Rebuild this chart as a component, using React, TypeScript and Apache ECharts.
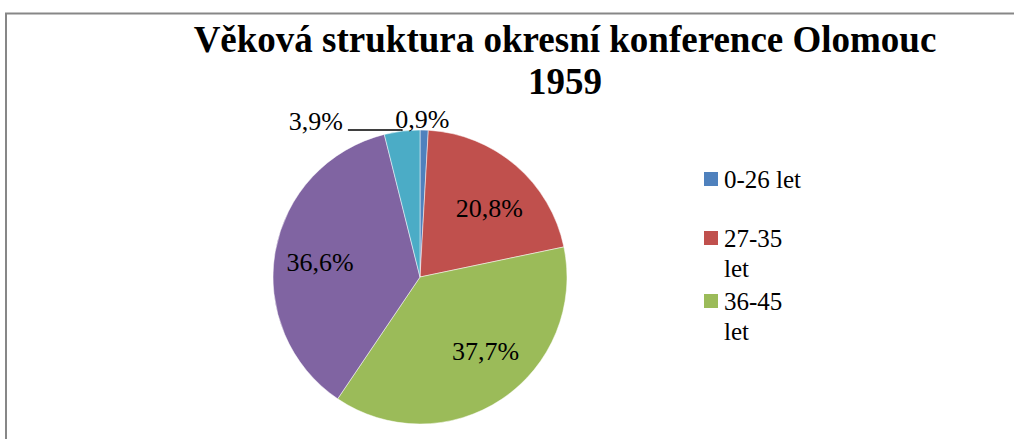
import React, { useEffect, useRef } from "react";
import * as echarts from "echarts";

const titleText = "Věková struktura okresní konference Olomouc\n1959";
const categories = ["0-26 let", "27-35 let", "36-45 let", "46-55 let", "nad 55 let"];
const values = [0.9, 20.8, 37.7, 36.6, 3.9];
const colors = ["#4F81BD", "#C0504D", "#9BBB59", "#8064A2", "#4BACC6"];
const legendShown = categories.slice(0, 3);

const FONT = "Liberation Serif";

const fmt = (v: number) => v.toFixed(1).replace(".", ",") + "%";

export default function App() {
  const ref = useRef<HTMLDivElement>(null);
  useEffect(() => {
    if (!ref.current) return;
    const chart = echarts.init(ref.current, undefined, { renderer: "svg" });
    const legendTops = [164, 193, 256];
    const legends = legendShown.map((name, i) => ({
      data: [name],
      orient: "vertical",
      left: 702,
      top: legendTops[i],
      padding: 0,
      icon: "rect",
      itemWidth: 16,
      itemHeight: 16,
      selectedMode: false,
      formatter: (n: string) => (i === 0 ? n : "\n" + n),
      textStyle: {
        fontFamily: FONT,
        fontSize: 25,
        lineHeight: 30,
        color: "#000",
        width: 85,
        overflow: "break",
      },
    }));
    const pieData = categories.map((name, i) => ({
      name,
      value: values[i],
      itemStyle: { color: colors[i] },
      label: { show: values[i] < 10 },
      labelLine: {
        show: values[i] < 10 && i !== 0,
        length: i === 0 ? 10 : 1,
        length2: i === 0 ? 0 : 54,
      },
    }));
    const overlayData = categories.map((name, i) => ({
      name,
      value: values[i],
      label: { show: values[i] >= 10 },
    }));
    chart.setOption({
      animation: false,
      textStyle: { fontFamily: FONT },
      title: {
        text: titleText,
        left: 565,
        top: 18,
        padding: 0,
        textAlign: "center",
        textStyle: {
          fontFamily: FONT,
          fontWeight: "bold",
          fontSize: 37,
          lineHeight: 42,
          color: "#000",
        },
      },
      legend: legends,
      graphic: [
        {
          type: "rect",
          silent: true,
          z: -10,
          shape: { x: 6, y: 13.5, width: 1100, height: 600 },
          style: { fill: "none", stroke: "#878787", lineWidth: 2 },
        },
      ],
      series: [
        {
          type: "pie",
          center: [420, 277],
          radius: [0, 147],
          startAngle: 90,
          clockwise: true,
          silent: true,
          avoidLabelOverlap: false,
          itemStyle: { borderColor: "#fff", borderWidth: 0.5 },
          label: {
            position: "outside",
            formatter: (p: any) => fmt(p.value),
            fontFamily: FONT,
            fontSize: 26,
            color: "#000",
            distanceToLabelLine: 5,
          },
          labelLine: { lineStyle: { color: "#000", width: 1.5 }, smooth: false },
          labelLayout: (p: any) => {
            if (p.dataIndex === 0) return { align: "center", dx: -7, dy: -1 };
            if (p.dataIndex === 4) return { dy: -9 };
            return {};
          },
          emphasis: { disabled: true },
          data: pieData,
        },
        {
          type: "pie",
          center: [420, 277],
          radius: [50, 147],
          startAngle: 90,
          clockwise: true,
          silent: true,
          avoidLabelOverlap: false,
          itemStyle: { color: "rgba(0,0,0,0)" },
          label: {
            position: "inside",
            formatter: (p: any) => fmt(p.value),
            fontFamily: FONT,
            fontSize: 26,
            color: "#000",
          },
          labelLayout: (p: any) => {
            if (p.dataIndex === 1) return { dx: 3, dy: 8 };
            if (p.dataIndex === 2) return { dx: 9, dy: -10 };
            if (p.dataIndex === 3) return { dy: 3 };
            return {};
          },
          labelLine: { show: false },
          emphasis: { disabled: true },
          data: overlayData,
        },
      ],
    });
    return () => chart.dispose();
  }, []);
  return (
    <div
      ref={ref}
      style={{ position: "fixed", left: 0, top: 0, width: 1014, height: 439, background: "#fff" }}
    />
  );
}
